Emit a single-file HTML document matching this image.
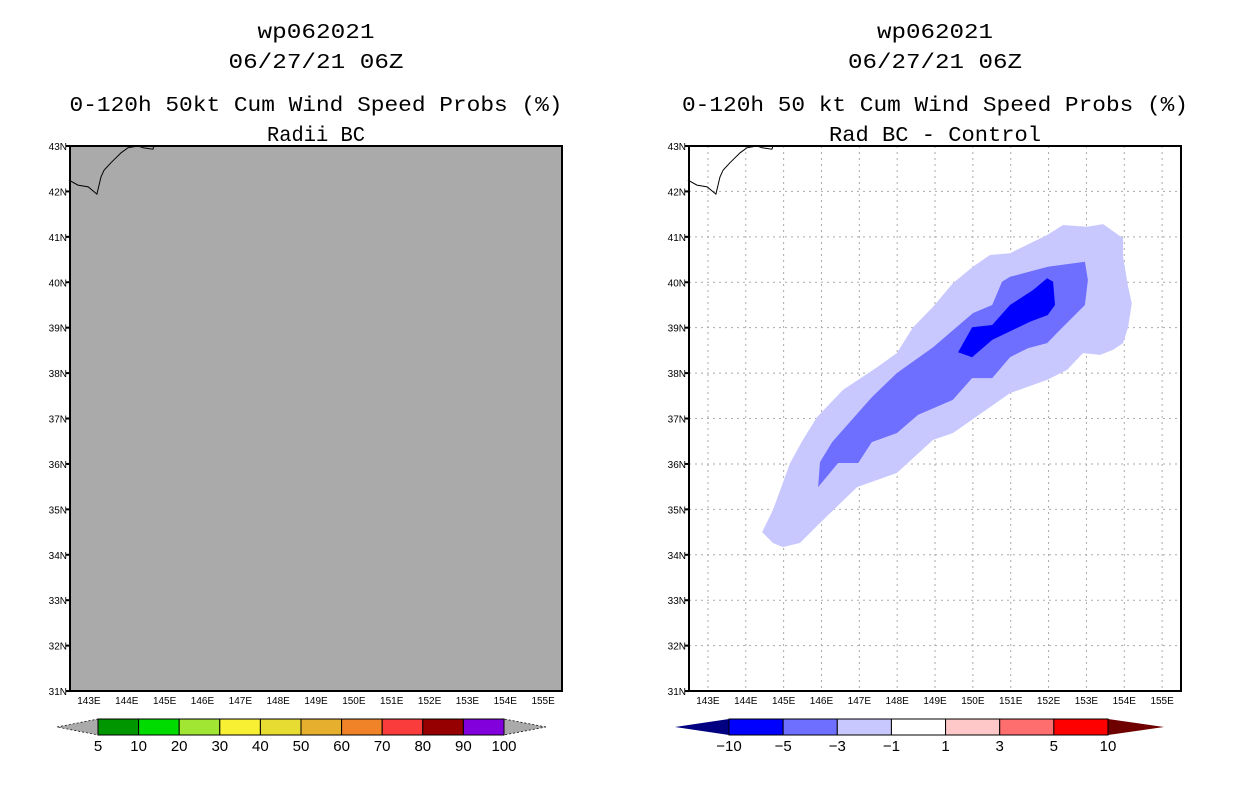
<!DOCTYPE html>
<html><head><meta charset="utf-8"><style>
html,body{margin:0;padding:0;background:#fff;}
svg{display:block;font-family:"Liberation Mono",monospace;}
</style></head><body>
<svg id="fig" width="1236" height="800" viewBox="0 0 1236 800">
<rect width="1236" height="800" fill="#fff"/>
<g id="left"></g>
<g id="right"></g>
</svg>
<script>
const latTicks=[31,32,33,34,35,36,37,38,39,40,41,42,43];
const lonTicks=[143,144,145,146,147,148,149,150,151,152,153,154,155];
const coastLon=[142.47,142.71,142.98,143.21,143.32,143.40,143.58,143.85,144.03,144.30,144.43,144.69,144.72,144.96];
const coastLat=[42.25,42.14,42.10,41.94,42.32,42.47,42.63,42.85,42.96,43,42.96,42.93,43,43];
const diffLightLon=[144.43,144.72,144.98,145.43,145.96,146.94,147.99,148.95,149.47,150.45,150.98,151.96,152.49,152.91,153.36,153.70,153.97,154.10,154.20,154.10,153.97,153.97,153.44,153.02,152.38,151.96,150.98,150.45,150.00,149.47,148.95,148.42,147.99,147.47,146.57,145.88,145.51,145.17,144.72];
const diffLightLat=[34.50,34.26,34.17,34.26,34.70,35.49,35.80,36.53,36.68,37.25,37.56,37.85,38.07,38.44,38.40,38.51,38.66,39.01,39.54,39.90,40.56,40.97,41.28,41.22,41.26,41.04,40.64,40.60,40.34,39.98,39.46,39.01,38.44,38.13,37.63,37.03,36.53,36.02,34.99];
const diffMedLon=[145.91,146.44,146.97,147.33,147.99,148.55,149.47,149.98,150.51,150.98,151.46,151.96,152.30,152.96,153.04,152.96,151.98,150.98,150.77,150.51,150.00,148.95,147.99,147.33,146.28,145.96];
const diffMedLat=[35.49,36.02,36.02,36.48,36.68,37.08,37.41,37.89,37.89,38.35,38.55,38.66,38.95,39.50,40.05,40.45,40.34,40.12,40.01,39.50,39.32,38.57,38.00,37.47,36.48,36.04];
const diffDarkLon=[149.61,149.98,150.51,151.51,151.98,152.17,152.12,151.96,151.59,150.98,150.51,149.98];
const diffDarkLat=[38.46,38.35,38.73,39.13,39.28,39.50,40.01,40.09,39.83,39.50,39.06,39.01];
const probLevels=['5','10','20','30','40','50','60','70','80','90','100'];
const probColors=['#009600','#00dc00','#a0e632','#f8f032','#e6dc32','#e6af2d','#f08228','#fa3c3c','#960000','#8200dc'];
const diffLevels=['−10','−5','−3','−1','1','3','5','10'];
const diffColors=['#0000ff','#6e6eff','#c8c8ff','#ffffff','#ffc8c8','#ff6e6e','#ff0000'];

const NS='http://www.w3.org/2000/svg';
function mk(parent,tag,attrs,text){const e=document.createElementNS(NS,tag);for(const k in attrs)e.setAttribute(k,attrs[k]);if(text!==undefined)e.textContent=text;parent.appendChild(e);return e;}
const T=24,B=691;
function xs(x0){return lon=>x0+(lon-142.5)*37.85;}
function ys(lat){return 146+(43-lat)*45.42;}
function poly(g,lons,lats,x,fill,name){
  const pts=lons.map((l,i)=>x(l).toFixed(1)+','+ys(lats[i]).toFixed(1)).join(' ');
  const p=mk(g,'polygon',{points:pts,fill:fill,stroke:'none'});
  
  
}
function panel(g,x0,shade,titles){
  const x=xs(x0);
  const cx=x0+246;
  const bg=mk(g,'rect',{x:x0,y:146,width:492,height:545,fill:shade?'#aaaaaa':'#fff'});
  
  const tys=[38,68,111,141];
  titles.forEach((t,i)=>{
    const e=mk(g,'text',{x:cx,y:tys[i],'text-anchor':'middle','font-size':21,textLength:t[1],lengthAdjust:'spacingAndGlyphs',fill:'#000'},t[0]);
    
    
  });
  if(!shade){
    lonTicks.forEach(l=>{const e=mk(g,'line',{x1:x(l),x2:x(l),y1:146,y2:691,stroke:'#aaa','stroke-dasharray':'2,4'});});
    latTicks.forEach(l=>{const e=mk(g,'line',{x1:x0,x2:x0+492,y1:ys(l),y2:ys(l),stroke:'#aaa','stroke-dasharray':'2,4'});});
    poly(g,diffLightLon,diffLightLat,x,'#c8c8ff','contour-minus1');
    poly(g,diffMedLon,diffMedLat,x,'#6e6eff','contour-minus3');
    poly(g,diffDarkLon,diffDarkLat,x,'#0000ff','contour-minus5');
  }
  const c=mk(g,'polyline',{points:coastLon.map((l,i)=>x(l).toFixed(1)+','+ys(coastLat[i]).toFixed(1)).join(' '),fill:'none',stroke:'#000','stroke-width':1});
  
  const fr=mk(g,'rect',{x:x0,y:146,width:492,height:545,fill:'none',stroke:'#000','stroke-width':2});
  
  latTicks.forEach(l=>{
    mk(g,'line',{x1:x0-4,x2:x0,y1:ys(l),y2:ys(l),stroke:'#000','stroke-width':2});
    const e=mk(g,'text',{x:x0-3,y:ys(l)+4,'text-anchor':'end','font-size':10,'font-family':'Liberation Sans',fill:'#000'},l+'N');
    
  });
  lonTicks.forEach(l=>{
    const e=mk(g,'text',{x:x(l),y:704,'text-anchor':'middle','font-size':10,'font-family':'Liberation Sans',fill:'#000'},l+'E');
    
  });
}
function colorbar(g,tipL,bx0,bx1,tipR,colors,levels,triL,triR,dashed){
  const y0=719,y1=735,ym=727,w=(bx1-bx0)/colors.length;
  const tl=mk(g,'polygon',{points:`${tipL},${ym} ${bx0},${y0} ${bx0},${y1}`,fill:triL,stroke:dashed?'#000':'none','stroke-dasharray':'2,2','stroke-width':0.7});
  
  const tr=mk(g,'polygon',{points:`${tipR},${ym} ${bx1},${y0} ${bx1},${y1}`,fill:triR,stroke:dashed?'#000':'none','stroke-dasharray':'2,2','stroke-width':0.7});
  
  colors.forEach((c,i)=>{
    const r=mk(g,'rect',{x:bx0+i*w,y:y0,width:w,height:y1-y0,fill:c,stroke:'#000','stroke-width':1});
    
  });
  levels.forEach((t,i)=>{
    const e=mk(g,'text',{x:bx0+i*w,y:751,'text-anchor':'middle','font-size':15,'font-family':'Liberation Sans',fill:'#000'},t);
    
  });
}
const L=document.getElementById('left'),R=document.getElementById('right');
panel(L,70,true,[['wp062021',117],['06/27/21 06Z',175],['0-120h 50kt Cum Wind Speed Probs (%)',493],['Radii BC',98]]);
panel(R,689,false,[['wp062021',116],['06/27/21 06Z',174],['0-120h 50 kt Cum Wind Speed Probs (%)',506],['Rad BC - Control',212]]);
colorbar(L,57,98,504,546,probColors,probLevels,'#aaaaaa','#aaaaaa',true);
colorbar(R,675,729,1108,1164,diffColors,diffLevels,'#000080','#6e0000',false);
</script>
</body></html>
